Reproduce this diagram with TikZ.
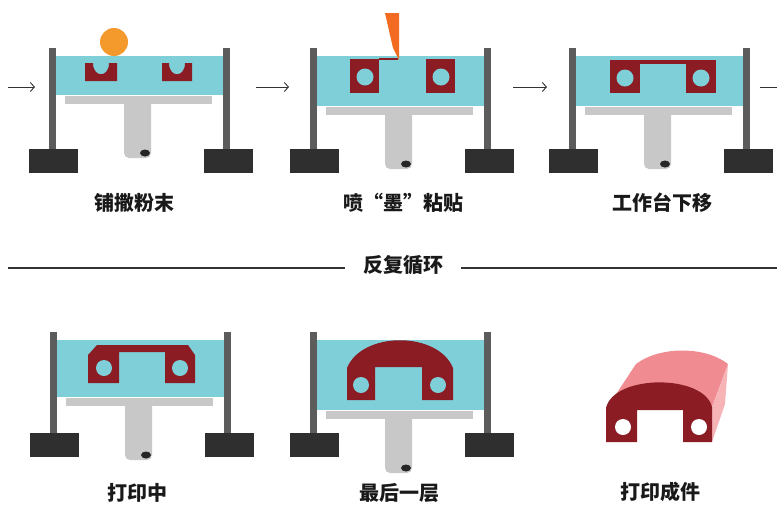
\documentclass[tikz,border=0pt]{standalone}
\usepackage{fontspec}
\usepackage{tikz}
\usetikzlibrary{arrows.meta,positioning}
\newfontfamily\cjk{Noto Sans CJK SC}
\definecolor{bathcyan}{HTML}{7FCFD9}
\definecolor{partred}{HTML}{8B1C24}
\definecolor{postgray}{HTML}{5C5C5C}
\definecolor{basegray}{HTML}{2F2F2F}
\definecolor{platgray}{HTML}{C8C8C8}
\definecolor{powder}{HTML}{F49A2C}
\definecolor{nozzle}{HTML}{F26B21}
\definecolor{pinktop}{HTML}{EF8B91}
\definecolor{pinkside}{HTML}{F6B4B7}
\def\baseline{87}

\begin{document}
\begin{tikzpicture}[x=1pt, y=-1pt]
            \tikzstyle{bath}=[fill=bathcyan]
            \tikzstyle{post}=[fill=postgray]
            \tikzstyle{foot}=[fill=basegray]
            \tikzstyle{plate}=[fill=platgray]
            \tikzstyle{part}=[fill=partred]
            \tikzstyle{hole}=[fill=bathcyan]
            \tikzstyle{flow}=[-{Straight Barb[length=4pt,width=9pt]}, line width=0.9pt, draw=black!80]
            \tikzstyle{caption}=[font=\cjk\bfseries\fontsize{20}{22}\selectfont, text=black!90, inner sep=2pt]

            \useasboundingbox (0,0) rectangle (777,507);

            % Draw the printer frames (name / x / y / depth of the powder bed)
            \foreach \n/\x/\y/\d in {1/49/48/47, 2/310/48/58, 3/569/48/58, 4/50/332/65, 5/310/332/78}
            {
                \begin{scope}[shift={(\x,\y)}]
                    \fill[bath] (7,8) rectangle (174,\d);
                    \fill[plate, rounded corners=5pt] (75,\d+4) rectangle (102,\d+63);
                    \fill[plate] (16,\d+1) rectangle (163,\d+9);
                    \fill[black!85] (96,\d+58) ellipse (5pt and 3.5pt);
                    \fill[post] (0,0) rectangle (7,101);
                    \fill[post] (174,0) rectangle (181,101);
                    \fill[foot] (-20,101) rectangle (29,125);
                    \fill[foot] (155,101) rectangle (204,125);
                    \coordinate (S-\n) at (0,0);
                \end{scope}
            }

            % Spread the powder
            \fill[powder] (114,42) circle (14pt);
            \fill[part] (85,63) -- (93,63) .. controls (93,78) and (109,78) .. (109,63)
                -- (117,63) -- (117,81) -- (85,81) -- cycle;
            \fill[part] (162,63) -- (169,63) .. controls (169,78) and (185,78) .. (185,63)
                -- (192,63) -- (192,81) -- (162,81) -- cycle;

            % Binder jetting
            \fill[nozzle] (385,13) -- (399,13) -- (399,60) -- (393,48) -- cycle;
            \draw[partred, line width=1.5pt] (379,59) -- (398,59);
            \foreach \cx in {365,441}
            {
                \fill[part] (\cx-15,59) rectangle (\cx+14,93);
                \fill[hole] (\cx,77) circle (8.5pt);
            }

            % Platform lowered
            \fill[part] (610,60) rectangle (715,64);
            \foreach \cx in {625,701}
            {
                \fill[part] (\cx-15,60) rectangle (\cx+15,93);
                \fill[hole] (\cx,78) circle (8.5pt);
            }

            % Printing
            \fill[part] (88,355) -- (97,345) -- (188,345) -- (195,355) -- (195,383) -- (165,383)
                -- (165,352) -- (119,352) -- (119,383) -- (88,383) -- cycle;
            \fill[hole] (104,368) circle (8pt);
            \fill[hole] (180,368) circle (8pt);

            % Last layer
            \fill[part] (347,400) -- (347,368) .. controls (362,331) and (438,331) .. (453,368)
                -- (453,400) -- (422,400) -- (422,367) -- (375,367) -- (375,400) -- cycle;
            \fill[hole] (361,385) circle (8pt);
            \fill[hole] (438,385) circle (8pt);

            % Finished part
            \fill[pinktop] (607,408) -- (636,364) .. controls (660,346) and (705,346) .. (728,364)
                -- (712,407) -- cycle;
            \fill[pinkside] (712,407) -- (728,364) -- (725,404) -- (712,442) -- cycle;
            \fill[part] (606,442) -- (606,408) .. controls (614,374) and (704,374) .. (712,407)
                -- (712,442) -- (683,442) -- (683,410) -- (637,410) -- (637,442) -- cycle;
            \fill[white] (623,427) circle (8pt);
            \fill[white] (699,427) circle (8pt);

            % Captions
            \node[caption] (step-1) at (134,203) {铺撒粉末};
            \node[caption] (step-2) at (403,203) {喷“墨”粘贴};
            \node[caption] (step-3) at (662,203) {工作台下移};
            \node[caption] (step-4) at (137,493) {打印中};
            \node[caption] (step-5) at (399,493) {最后一层};
            \node[caption] (step-6) at (660,492) {打印成件};

            % Arrows between the steps
            \foreach \i/\a/\b in {1/8/35, 2/256/289, 3/513/547}
            {
                \coordinate (from-\i) at (\a,\baseline);
                \coordinate (to-\i) at (\b,\baseline);
                \draw[flow] (from-\i) -- (to-\i);
            }
            \coordinate (from-4) at (760,\baseline);
            \coordinate (to-4) at (777,\baseline);
            \draw[line width=0.9pt, draw=black!80] (from-4) -- (to-4);

            % Repeat the cycle
            \node[caption, inner xsep=18pt] (loop) at (403,265) {反复循环};
            \coordinate (sep-l) at (8,268);
            \coordinate (sep-r) at (777,268);
            \draw[line width=1.4pt, draw=black!80] (sep-l) -- (sep-l -| loop.west);
            \draw[line width=1.4pt, draw=black!80] (loop.east |- sep-r) -- (sep-r);

        \end{tikzpicture}
\end{document}
